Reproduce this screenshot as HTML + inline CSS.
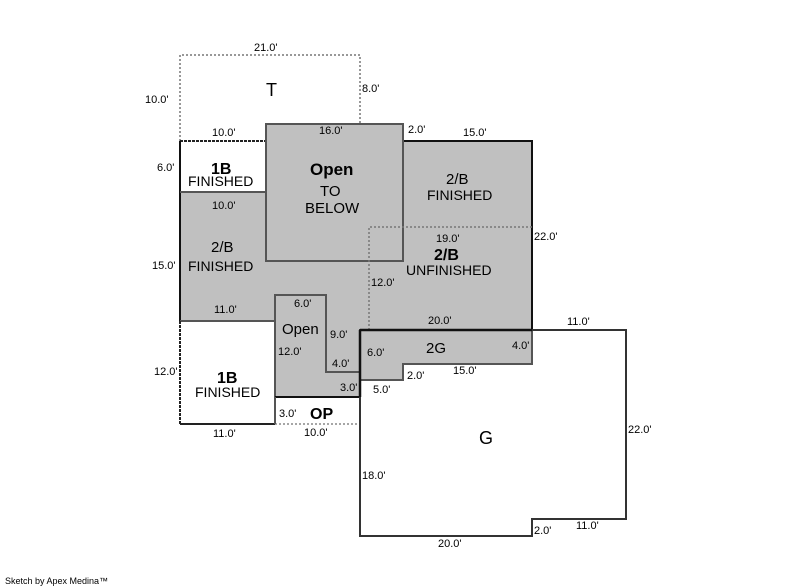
<!DOCTYPE html>
<html><head><style>
html,body{margin:0;padding:0;background:#fff;width:800px;height:587px;overflow:hidden}
svg{display:block}
text{font-family:"Liberation Sans",sans-serif;fill:#000}
.s{font-size:11px}
.m{font-size:15px}
</style></head><body>
<svg width="800" height="587" viewBox="0 0 800 587">
<polygon points="180,141 266,141 266,124 403,124 403,141 532,141 532,364 403,364 403,380 360,380 360,397 275,397 275,321 180,321" fill="#c0c0c0" stroke="none"/>
<rect x="180" y="141" width="86" height="51" fill="#fff"/>
<polyline points="180,141 180,55 360,55 360,124" fill="none" stroke="#777" stroke-width="1.5" stroke-dasharray="2,2"/>
<line x1="180" y1="141" x2="266" y2="141" stroke="#222" stroke-width="2" stroke-dasharray="3,1"/>
<polyline points="180,141 180,321" fill="none" stroke="#111" stroke-width="2"/>
<polyline points="266,141 266,124 403,124 403,141 532,141 532,330" fill="none" stroke="#111" stroke-width="2"/>
<line x1="180" y1="192" x2="266" y2="192" stroke="#555" stroke-width="2"/>
<rect x="266" y="124" width="137" height="137" fill="none" stroke="#555" stroke-width="2"/>
<polyline points="369,330 369,227 532,227" fill="none" stroke="#777" stroke-width="1.5" stroke-dasharray="2,2"/>
<polyline points="180,321 275,321 275,295 326,295 326,372 360,372" fill="none" stroke="#555" stroke-width="2"/>
<line x1="275" y1="321" x2="275" y2="397" stroke="#555" stroke-width="2"/>
<line x1="180" y1="321" x2="180" y2="424" stroke="#222" stroke-width="2" stroke-dasharray="3,1"/>
<line x1="180" y1="424" x2="275" y2="424" stroke="#222" stroke-width="2"/>
<line x1="275" y1="397" x2="360" y2="397" stroke="#111" stroke-width="2"/>
<line x1="275" y1="424" x2="360" y2="424" stroke="#888" stroke-width="1.5" stroke-dasharray="2,2"/>
<line x1="275" y1="397" x2="275" y2="424" stroke="#555" stroke-width="2"/>
<polyline points="532,330 532,364 403,364 403,380 360,380" fill="none" stroke="#555" stroke-width="2"/>
<polygon points="360,330 626,330 626,519 532,519 532,536 360,536" fill="none" stroke="#333" stroke-width="2"/>
<line x1="360" y1="330" x2="532" y2="330" stroke="#111" stroke-width="2.5"/>
<line x1="360" y1="330" x2="360" y2="397" stroke="#111" stroke-width="2.5"/>

<g class="s">
<text x="254" y="51">21.0'</text>
<text x="145" y="103">10.0'</text>
<text x="362" y="92">8.0'</text>
<text x="212" y="136">10.0'</text>
<text x="319" y="134">16.0'</text>
<text x="408" y="133">2.0'</text>
<text x="463" y="136">15.0'</text>
<text x="157" y="171">6.0'</text>
<text x="212" y="209">10.0'</text>
<text x="534" y="240">22.0'</text>
<text x="436" y="242">19.0'</text>
<text x="152" y="269">15.0'</text>
<text x="371" y="286">12.0'</text>
<text x="214" y="313">11.0'</text>
<text x="294" y="307">6.0'</text>
<text x="330" y="338">9.0'</text>
<text x="428" y="324">20.0'</text>
<text x="567" y="325">11.0'</text>
<text x="278" y="355">12.0'</text>
<text x="367" y="356">6.0'</text>
<text x="332" y="367">4.0'</text>
<text x="512" y="349">4.0'</text>
<text x="154" y="375">12.0'</text>
<text x="407" y="379">2.0'</text>
<text x="453" y="374">15.0'</text>
<text x="340" y="391">3.0'</text>
<text x="373" y="393">5.0'</text>
<text x="279" y="417">3.0'</text>
<text x="213" y="437">11.0'</text>
<text x="304" y="436">10.0'</text>
<text x="628" y="433">22.0'</text>
<text x="362" y="479">18.0'</text>
<text x="534" y="534">2.0'</text>
<text x="576" y="529">11.0'</text>
<text x="438" y="547">20.0'</text>
</g>
<text x="266" y="96" font-size="18">T</text>
<text x="211" y="174" font-size="16" font-weight="bold">1B</text>
<text x="188" y="186" font-size="14">FINISHED</text>
<text x="310" y="175" font-size="17" font-weight="bold">Open</text>
<text x="320" y="196" font-size="15">TO</text>
<text x="305" y="213" font-size="15">BELOW</text>
<text class="m" x="446" y="184">2/B</text>
<text x="427" y="200" font-size="14">FINISHED</text>
<text class="m" x="211" y="252">2/B</text>
<text x="188" y="271" font-size="14">FINISHED</text>
<text x="434" y="260" font-size="16" font-weight="bold">2/B</text>
<text x="406" y="275" font-size="14">UNFINISHED</text>
<text class="m" x="282" y="334">Open</text>
<text class="m" x="426" y="353">2G</text>
<text x="217" y="383" font-size="16" font-weight="bold">1B</text>
<text x="195" y="397" font-size="14">FINISHED</text>
<text x="310" y="419" font-size="16" font-weight="bold">OP</text>
<text x="479" y="444" font-size="18">G</text>
<text x="5" y="584" font-size="9">Sketch by Apex Medina™</text>
</svg>
</body></html>
